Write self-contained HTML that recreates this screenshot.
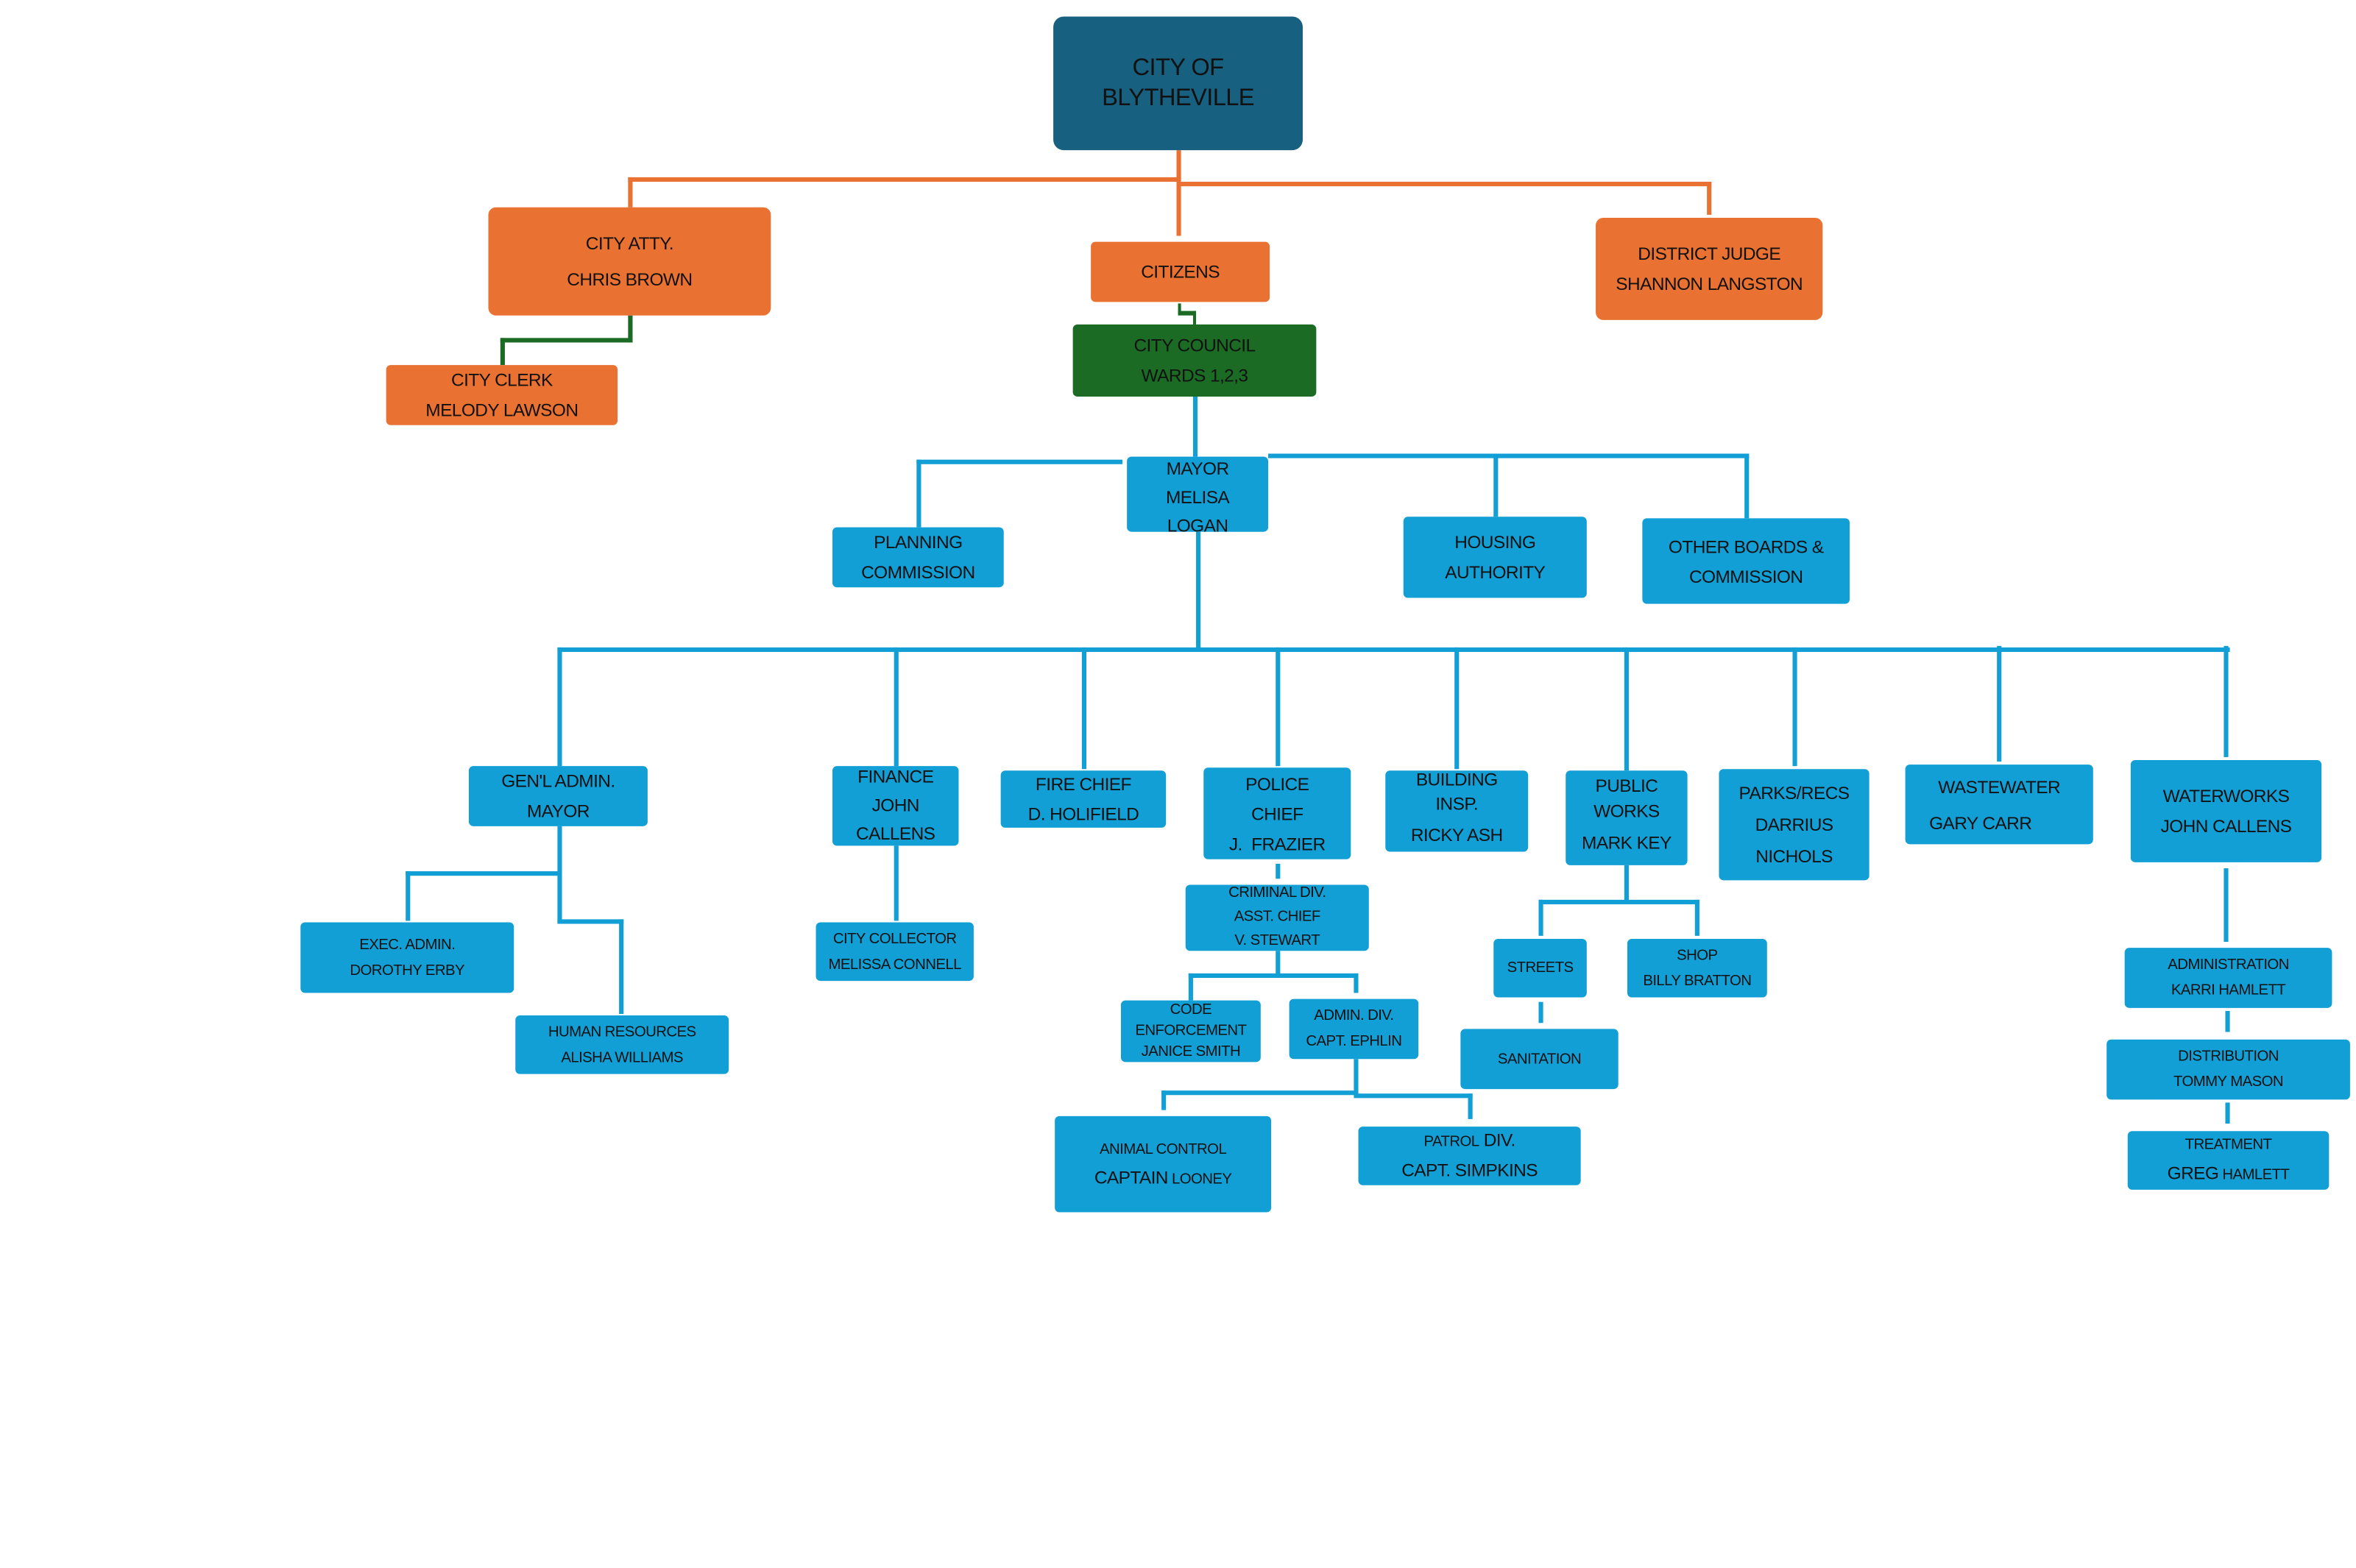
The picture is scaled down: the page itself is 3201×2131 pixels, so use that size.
<!DOCTYPE html>
<html><head><meta charset="utf-8"><style>
html,body{margin:0;padding:0;background:#fff;}
body{width:3201px;height:2131px;overflow:hidden;position:relative;}
#c{position:absolute;left:0;top:0;width:1568px;height:1044px;transform:scale(2.0415);transform-origin:0 0;}
.b{position:absolute;box-sizing:border-box;display:flex;flex-direction:column;align-items:center;justify-content:center;text-align:center;font-family:"Liberation Sans",sans-serif;color:#111;border-radius:3px;font-size:12px;line-height:20px;letter-spacing:-0.3px;white-space:nowrap;}
.o{background:#e97132;}.u{background:#129fd6;}.g{background:#1b6b24;}
.l{position:absolute;}
.lo{background:#e97132;}.lb{background:#129fd6;}.lg{background:#1b6b24;}
.s{font-size:10px;line-height:17px;}
</style></head><body><div id="c">
<!-- orange lines -->
<div class="l lo" style="left:783px;top:100px;width:3px;height:57px"></div>
<div class="l lo" style="left:418px;top:118px;width:367px;height:3px"></div>
<div class="l lo" style="left:784px;top:121px;width:355px;height:3px"></div>
<div class="l lo" style="left:418px;top:118px;width:3px;height:20px"></div>
<div class="l lo" style="left:1136px;top:121px;width:3px;height:22px"></div>
<!-- green lines -->
<div class="l lg" style="left:418px;top:210px;width:3px;height:18px"></div>
<div class="l lg" style="left:333px;top:225px;width:88px;height:3px"></div>
<div class="l lg" style="left:333px;top:225px;width:3px;height:18px"></div>
<div class="l lg" style="left:784px;top:202px;width:2px;height:7px"></div>
<div class="l lg" style="left:784px;top:207px;width:12px;height:3px"></div>
<div class="l lg" style="left:794px;top:207px;width:2px;height:9px"></div>
<!-- blue lines top -->
<div class="l lb" style="left:794px;top:264px;width:3px;height:40px"></div>
<div class="l lb" style="left:610px;top:306px;width:137px;height:3px"></div>
<div class="l lb" style="left:610px;top:306px;width:3px;height:45px"></div>
<div class="l lb" style="left:844px;top:302px;width:320px;height:3px"></div>
<div class="l lb" style="left:994px;top:302px;width:3px;height:42px"></div>
<div class="l lb" style="left:1161px;top:302px;width:3px;height:43px"></div>
<div class="l lb" style="left:796px;top:354px;width:3px;height:78px"></div>
<div class="l lb" style="left:371px;top:431px;width:1113px;height:3px"></div>
<div class="l lb" style="left:371px;top:431px;width:3px;height:79px"></div>
<div class="l lb" style="left:595px;top:431px;width:3px;height:79px"></div>
<div class="l lb" style="left:720px;top:431px;width:3px;height:81px"></div>
<div class="l lb" style="left:849px;top:431px;width:3px;height:79px"></div>
<div class="l lb" style="left:968px;top:431px;width:3px;height:81px"></div>
<div class="l lb" style="left:1081px;top:431px;width:3px;height:82px"></div>
<div class="l lb" style="left:1193px;top:431px;width:3px;height:79px"></div>
<div class="l lb" style="left:1329px;top:430px;width:3px;height:77px"></div>
<div class="l lb" style="left:1480px;top:430px;width:3px;height:74px"></div>
<!-- gen admin -->
<div class="l lb" style="left:371px;top:550px;width:3px;height:64px"></div>
<div class="l lb" style="left:270px;top:580px;width:104px;height:3px"></div>
<div class="l lb" style="left:270px;top:580px;width:3px;height:33px"></div>
<div class="l lb" style="left:371px;top:612px;width:44px;height:3px"></div>
<div class="l lb" style="left:412px;top:612px;width:3px;height:63px"></div>
<!-- finance -->
<div class="l lb" style="left:595px;top:563px;width:3px;height:50px"></div>
<!-- police -->
<div class="l lb" style="left:849px;top:575px;width:3px;height:10px"></div>
<div class="l lb" style="left:849px;top:633px;width:3px;height:16px"></div>
<div class="l lb" style="left:791px;top:648px;width:113px;height:3px"></div>
<div class="l lb" style="left:791px;top:648px;width:3px;height:18px"></div>
<div class="l lb" style="left:901px;top:648px;width:3px;height:13px"></div>
<div class="l lb" style="left:901px;top:705px;width:3px;height:24px"></div>
<div class="l lb" style="left:773px;top:726px;width:130px;height:3px"></div>
<div class="l lb" style="left:773px;top:726px;width:3px;height:13px"></div>
<div class="l lb" style="left:901px;top:728px;width:79px;height:3px"></div>
<div class="l lb" style="left:977px;top:728px;width:3px;height:17px"></div>
<!-- public works -->
<div class="l lb" style="left:1081px;top:576px;width:3px;height:25px"></div>
<div class="l lb" style="left:1024px;top:599px;width:107px;height:3px"></div>
<div class="l lb" style="left:1024px;top:599px;width:3px;height:24px"></div>
<div class="l lb" style="left:1128px;top:599px;width:3px;height:24px"></div>
<div class="l lb" style="left:1024px;top:667px;width:3px;height:14px"></div>
<!-- waterworks -->
<div class="l lb" style="left:1480px;top:578px;width:3px;height:49px"></div>
<div class="l lb" style="left:1481px;top:673px;width:3px;height:14px"></div>
<div class="l lb" style="left:1481px;top:734px;width:3px;height:14px"></div>

<!-- boxes -->
<div class="b" style="left:701px;top:11px;width:166px;height:89px;background:#17607f;border-radius:7px;font-size:16px;line-height:20px;">CITY OF<br>BLYTHEVILLE</div>
<div class="b o" style="left:325px;top:138px;width:188px;height:72px;border-radius:5px;line-height:24px">CITY ATTY.<br>CHRIS BROWN</div>
<div class="b o" style="left:726px;top:161px;width:119px;height:40px">CITIZENS</div>
<div class="b o" style="left:1062px;top:145px;width:151px;height:68px;border-radius:5px">DISTRICT JUDGE<br>SHANNON LANGSTON</div>
<div class="b o" style="left:257px;top:243px;width:154px;height:40px">CITY CLERK<br>MELODY LAWSON</div>
<div class="b g" style="left:714px;top:216px;width:162px;height:48px">CITY COUNCIL<br>WARDS 1,2,3</div>
<div class="b u" style="left:750px;top:304px;width:94px;height:50px;line-height:16px;justify-content:flex-start;padding-top:0">MAYOR<br><span style="line-height:22px">MELISA</span>LOGAN</div>
<div class="b u" style="left:554px;top:351px;width:114px;height:40px">PLANNING<br>COMMISSION</div>
<div class="b u" style="left:934px;top:344px;width:122px;height:54px">HOUSING<br>AUTHORITY</div>
<div class="b u" style="left:1093px;top:345px;width:138px;height:57px">OTHER BOARDS &amp;<br>COMMISSION</div>

<div class="b u" style="left:312px;top:510px;width:119px;height:40px">GEN'L ADMIN.<br>MAYOR</div>
<div class="b u" style="left:554px;top:510px;width:84px;height:53px;line-height:17px">FINANCE<br><span style="line-height:21px">JOHN</span>CALLENS</div>
<div class="b u" style="left:666px;top:513px;width:110px;height:38px">FIRE CHIEF<br>D. HOLIFIELD</div>
<div class="b u" style="left:801px;top:511px;width:98px;height:61px">POLICE<br>CHIEF<br>J.&nbsp; FRAZIER</div>
<div class="b u" style="left:922px;top:513px;width:95px;height:54px;line-height:16px">BUILDING<br>INSP.<br><span style="line-height:26px">RICKY ASH</span></div>
<div class="b u" style="left:1042px;top:513px;width:81px;height:63px;line-height:17px">PUBLIC<br>WORKS<br><span style="line-height:25px">MARK KEY</span></div>
<div class="b u" style="left:1144px;top:512px;width:100px;height:74px;line-height:17px">PARKS/RECS<br><span style="line-height:25px">DARRIUS</span>NICHOLS</div>
<div class="b u" style="left:1268px;top:509px;width:125px;height:53px;line-height:24px;align-items:center"><span>WASTEWATER</span><span style="margin-right:25px">GARY CARR</span></div>
<div class="b u" style="left:1418px;top:506px;width:127px;height:68px">WATERWORKS<br>JOHN CALLENS</div>

<div class="b u s" style="left:200px;top:614px;width:142px;height:47px">EXEC. ADMIN.<br>DOROTHY ERBY</div>
<div class="b u s" style="left:343px;top:676px;width:142px;height:39px">HUMAN RESOURCES<br>ALISHA WILLIAMS</div>
<div class="b u s" style="left:543px;top:614px;width:105px;height:39px">CITY COLLECTOR<br>MELISSA CONNELL</div>
<div class="b u s" style="left:789px;top:589px;width:122px;height:44px;line-height:16px">CRIMINAL DIV.<br>ASST. CHIEF<br>V. STEWART</div>
<div class="b u s" style="left:746px;top:666px;width:93px;height:41px;line-height:14px">CODE<br>ENFORCEMENT<br>JANICE SMITH</div>
<div class="b u s" style="left:858px;top:665px;width:86px;height:40px">ADMIN. DIV.<br>CAPT. EPHLIN</div>
<div class="b u s" style="left:702px;top:743px;width:144px;height:64px;line-height:19px">ANIMAL CONTROL<br><span><span style="font-size:12px">CAPTAIN</span> LOONEY</span></div>
<div class="b u" style="left:904px;top:750px;width:148px;height:39px;line-height:19px"><span><span style="font-size:10px">PATROL</span> DIV.</span>CAPT. SIMPKINS</div>
<div class="b u s" style="left:994px;top:625px;width:62px;height:39px">STREETS</div>
<div class="b u s" style="left:1083px;top:625px;width:93px;height:39px">SHOP<br>BILLY BRATTON</div>
<div class="b u s" style="left:972px;top:685px;width:105px;height:40px">SANITATION</div>
<div class="b u s" style="left:1414px;top:631px;width:138px;height:40px">ADMINISTRATION<br>KARRI HAMLETT</div>
<div class="b u s" style="left:1402px;top:692px;width:162px;height:40px">DISTRIBUTION<br>TOMMY MASON</div>
<div class="b u s" style="left:1416px;top:753px;width:134px;height:39px;line-height:18px">TREATMENT<br><span><span style="font-size:12px">GREG</span> HAMLETT</span></div>
</div></body></html>
